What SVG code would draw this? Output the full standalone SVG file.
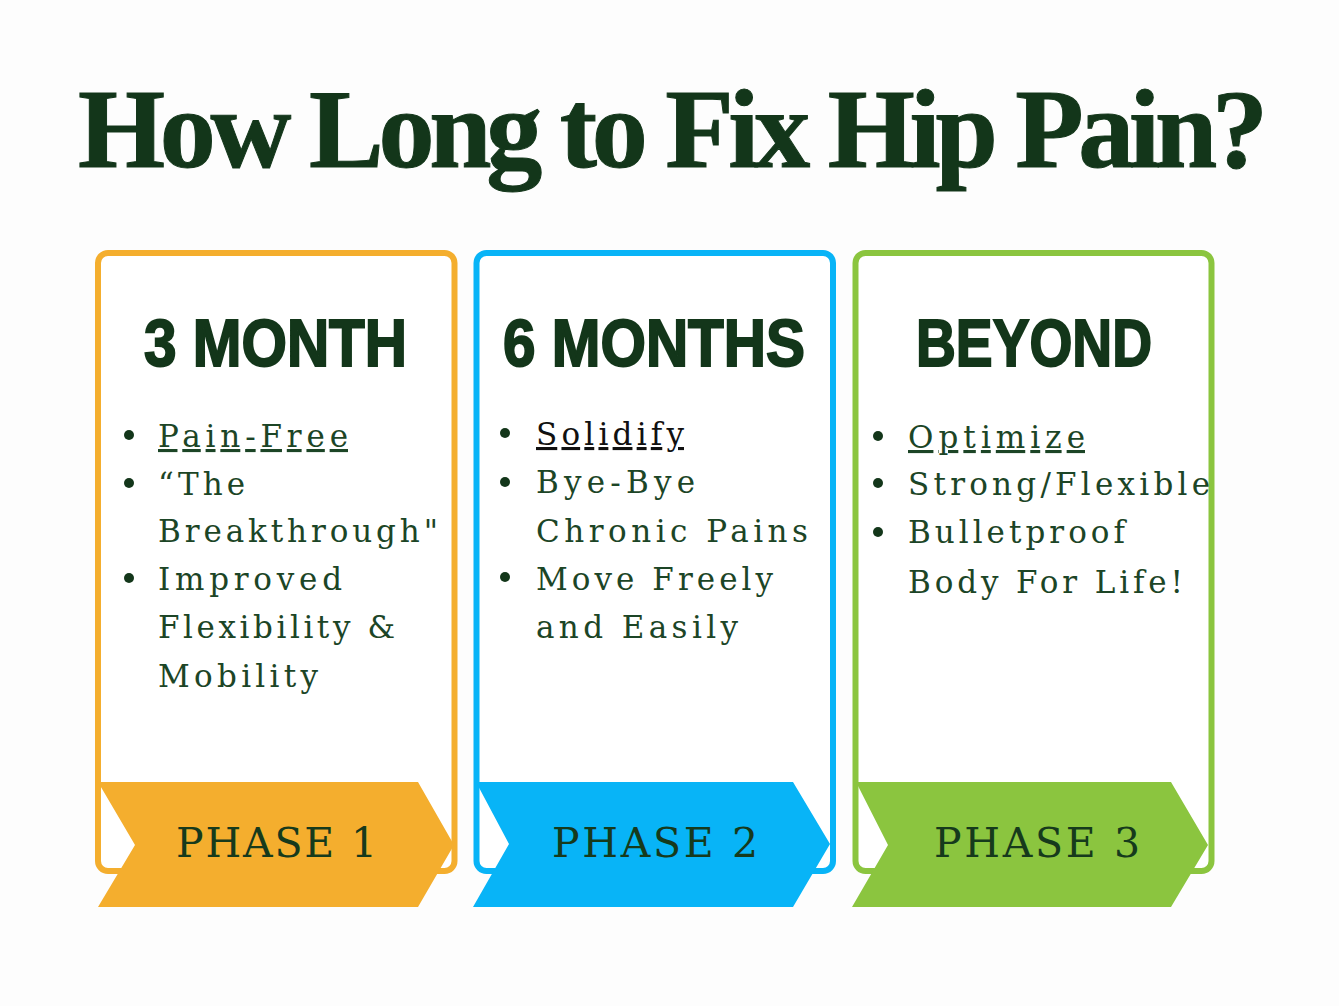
<svg xmlns="http://www.w3.org/2000/svg" width="1339" height="1006" viewBox="0 0 1339 1006">
<style>
.title{font-family:"Liberation Serif","Times New Roman",serif;font-weight:bold;font-size:112px;fill:#13361a;stroke:#13361a;stroke-width:1}
.head{font-family:"Liberation Sans",Arial,sans-serif;font-weight:bold;font-size:66px;fill:#13361a;stroke:#13361a;stroke-width:2}
.body{font-family:"DejaVu Serif",serif;font-size:31px;fill:#1c4526}
.phase{font-family:"DejaVu Serif",serif;font-size:41px;fill:#163a1c}
.box{fill:#ffffff;stroke-width:6}
.dot{fill:#13361a}
</style>
<rect x="0" y="0" width="1339" height="1006" fill="#fdfdfd"/>
<text id="title" class="title" x="78" y="167" textLength="1190" lengthAdjust="spacing">How Long to Fix Hip Pain?</text>

<g id="phase1">
<rect class="box" x="98" y="253" width="356.5" height="618" rx="10" stroke="#f4ae2e"/>
<text class="head" x="144" y="366" textLength="263" lengthAdjust="spacingAndGlyphs">3 MONTH</text>
<circle class="dot" cx="129" cy="435" r="5"/>
<circle class="dot" cx="129" cy="483" r="5"/>
<circle class="dot" cx="129" cy="578" r="5"/>
<text class="body" x="158" y="447" textLength="190" lengthAdjust="spacing" text-decoration="underline">Pain-Free</text>
<text class="body" x="158" y="495" textLength="87" lengthAdjust="spacing">“The</text>
<text class="body" x="158" y="542" textLength="280" lengthAdjust="spacing">Breakthrough"</text>
<text class="body" x="158" y="590" textLength="184" lengthAdjust="spacing">Improved</text>
<text class="body" x="158" y="638" textLength="237" lengthAdjust="spacing">Flexibility &amp;</text>
<text class="body" x="158" y="687" textLength="160" lengthAdjust="spacing">Mobility</text>
<polygon points="98,782 418,782 454,845 418,907 98,907 135,845" fill="#f4ae2e"/>
<text class="phase" x="176" y="857" textLength="201" lengthAdjust="spacing">PHASE 1</text>
</g>

<g id="phase2">
<rect class="box" x="476.5" y="253" width="356.5" height="618" rx="10" stroke="#08b4f7"/>
<text class="head" x="503" y="366" textLength="302" lengthAdjust="spacingAndGlyphs">6 MONTHS</text>
<circle class="dot" cx="505" cy="433" r="5"/>
<circle class="dot" cx="505" cy="482" r="5"/>
<circle class="dot" cx="505" cy="577" r="5"/>
<text class="body" x="536" y="445" textLength="148" lengthAdjust="spacing" text-decoration="underline" style="fill:#111111">Solidify</text>
<text class="body" x="536" y="493" textLength="159" lengthAdjust="spacing">Bye-Bye</text>
<text class="body" x="536" y="542" textLength="272" lengthAdjust="spacing">Chronic Pains</text>
<text class="body" x="536" y="590" textLength="237" lengthAdjust="spacing">Move Freely</text>
<text class="body" x="536" y="638" textLength="202" lengthAdjust="spacing">and Easily</text>
<polygon points="476,782 793,782 830,844 793,907 473,907 509,844" fill="#08b4f7"/>
<text class="phase" x="552" y="857" textLength="206" lengthAdjust="spacing">PHASE 2</text>
</g>

<g id="phase3">
<rect class="box" x="855.5" y="253" width="356" height="618" rx="10" stroke="#8bc53f"/>
<text class="head" x="916" y="366" textLength="236" lengthAdjust="spacingAndGlyphs">BEYOND</text>
<circle class="dot" cx="878" cy="436" r="5"/>
<circle class="dot" cx="878" cy="483" r="5"/>
<circle class="dot" cx="878" cy="532" r="5"/>
<text class="body" x="908" y="448" textLength="177" lengthAdjust="spacing" text-decoration="underline">Optimize</text>
<text class="body" x="908" y="495" textLength="302" lengthAdjust="spacing">Strong/Flexible</text>
<text class="body" x="908" y="543" textLength="217" lengthAdjust="spacing">Bulletproof</text>
<text class="body" x="908" y="593" textLength="275" lengthAdjust="spacing">Body For Life!</text>
<polygon points="856,782 1171,782 1208,845 1171,907 852,907 888,845" fill="#8bc53f"/>
<text class="phase" x="934" y="857" textLength="206" lengthAdjust="spacing">PHASE 3</text>
</g>

<g id="connectors"></g>
</svg>
